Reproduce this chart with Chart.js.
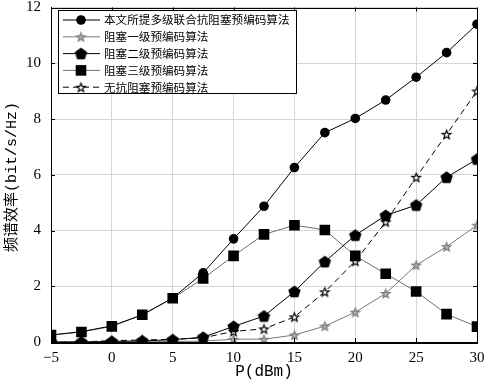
<!DOCTYPE html>
<html>
<head>
<meta charset="utf-8">
<script src="https://cdn.jsdelivr.net/npm/chart.js@4.4.1/dist/chart.umd.min.js"></script>
<style>
  html, body { margin: 0; padding: 0; background: #fff; }
  #wrap { width: 486px; height: 380px; }
</style>
</head>
<body>
<div id="wrap"><canvas id="specChart" width="486" height="380"></canvas></div>
<script>
// data
var powerDbm = [-5, -2.5, 0, 2.5, 5, 7.5, 10, 12.5, 15, 17.5, 20, 22.5, 25, 27.5, 30];
var proposed = [0.25, 0.37, 0.58, 0.97, 1.58, 2.48, 3.70, 4.87, 6.26, 7.51, 8.02, 8.68, 9.50, 10.38, 11.40];
var level1 = [0.0, 0.0, 0.0, 0.01, 0.02, 0.03, 0.10, 0.10, 0.25, 0.57, 1.07, 1.74, 2.76, 3.42, 4.19];
var level2 = [0.0, 0.0, 0.02, 0.04, 0.08, 0.17, 0.56, 0.93, 1.81, 2.88, 3.83, 4.54, 4.91, 5.91, 6.56];
var level3 = [0.25, 0.36, 0.56, 0.98, 1.57, 2.28, 3.09, 3.86, 4.19, 4.02, 3.09, 2.45, 1.81, 1.00, 0.55];
var noAnti = [0.0, 0.0, 0.05, 0.07, 0.10, 0.15, 0.38, 0.47, 0.90, 1.80, 2.90, 4.31, 5.91, 7.45, 9.00];
var seriesNames = ['本文所提多级联合抗阻塞预编码算法', '阻塞一级预编码算法', '阻塞二级预编码算法', '阻塞三级预编码算法', '无抗阻塞预编码算法'];
var xTicks = [-5, 0, 5, 10, 15, 20, 25, 30];
var xTitle = 'P(dBm)';
var yTitle = '频谱效率(bit/s/Hz)';

var fontFam = '"Liberation Serif", "Noto Sans CJK SC", serif';
var titleFam = '"Liberation Mono", "Noto Sans CJK SC", monospace';

// marker shapes
function starCanvas(R, fill, stroke) {
    var c = document.createElement('canvas');
    c.width = c.height = Math.ceil(R * 2 + 4);
    var g = c.getContext('2d');
    var cx = c.width / 2, cy = c.height / 2 + 0.5;
    g.beginPath();
    for (var i = 0; i < 10; i++) {
        var r = i % 2 === 0 ? R : R * 0.42;
        var a = -Math.PI / 2 + i * Math.PI / 5;
        g.lineTo(cx + r * Math.cos(a), cy + r * Math.sin(a));
    }
    g.closePath();
    g.fillStyle = fill;
    g.fill();
    g.lineWidth = 1.2;
    g.strokeStyle = stroke;
    g.stroke();
    return c;
}
function pentagonCanvas(R) {
    var c = document.createElement('canvas');
    c.width = c.height = Math.ceil(R * 2 + 2);
    var g = c.getContext('2d');
    var cx = c.width / 2, cy = c.height / 2 + 0.5;
    g.beginPath();
    for (var i = 0; i < 5; i++) {
        var a = -Math.PI / 2 + i * 2 * Math.PI / 5;
        g.lineTo(cx + R * Math.cos(a), cy + R * Math.sin(a));
    }
    g.closePath();
    g.fillStyle = '#000';
    g.fill();
    return c;
}
var grayStar = starCanvas(4.5, '#b0b0b0', '#7a7a7a');
var whiteStar = starCanvas(4.5, '#ffffff', '#000000');
var pentagon = pentagonCanvas(6.5);

var datasets = [
    { label: seriesNames[0], data: proposed, borderColor: '#000', backgroundColor: '#000', borderWidth: 1,
      pointStyle: 'circle', pointRadius: 4.8, pointBorderWidth: 0, order: 1 },
    { label: seriesNames[1], data: level1, borderColor: '#7a7a7a', backgroundColor: '#7a7a7a', borderWidth: 1,
      pointStyle: grayStar, pointRadius: 5, order: 4 },
    { label: seriesNames[2], data: level2, borderColor: '#000', backgroundColor: '#000', borderWidth: 1,
      pointStyle: pentagon, pointRadius: 6, order: 2 },
    { label: seriesNames[3], data: level3, borderColor: '#6e6e6e', backgroundColor: '#000', borderWidth: 1,
      pointStyle: 'rect', pointRadius: 7.5, pointBorderWidth: 0, order: 3 },
    { label: seriesNames[4], data: noAnti, borderColor: '#000', backgroundColor: '#fff', borderWidth: 1,
      borderDash: [6, 4], pointStyle: whiteStar, pointRadius: 5, order: 5 }
];
datasets.forEach(function (d) {
    d.data = d.data.map(function (v, i) { return { x: powerDbm[i], y: v }; });
    d.tension = 0;
    d.fill = false;
});

// box frame, inward ticks, axis titles and in-plot legend
var framePlugin = {
    id: 'frame',
    afterDraw: function (chart) {
        var ctx = chart.ctx, a = chart.chartArea;
        var xs = chart.scales.x, ys = chart.scales.y;
        ctx.save();
        ctx.strokeStyle = '#000';
        ctx.lineWidth = 1;
        ctx.beginPath();
        xTicks.forEach(function (v) {
            var px = Math.round(xs.getPixelForValue(v)) + 0.5;
            ctx.moveTo(px, a.bottom); ctx.lineTo(px, a.bottom - 4);
            ctx.moveTo(px, a.top); ctx.lineTo(px, a.top + 4);
        });
        for (var v = 0; v <= 12; v += 2) {
            var py = Math.round(ys.getPixelForValue(v)) + 0.5;
            ctx.moveTo(a.left, py); ctx.lineTo(a.left + 4, py);
            ctx.moveTo(a.right, py); ctx.lineTo(a.right - 4, py);
        }
        ctx.stroke();
        ctx.strokeRect(Math.round(a.left) + 0.5, Math.round(a.top) + 0.5,
            Math.round(a.right - a.left), Math.round(a.bottom - a.top));

        // axis titles
        ctx.fillStyle = '#000';
        ctx.textAlign = 'center';
        ctx.textBaseline = 'middle';
        ctx.font = '16px ' + titleFam;
        ctx.fillText(xTitle, (a.left + a.right) / 2, 372);
        ctx.save();
        ctx.translate(12, 177);
        ctx.rotate(-Math.PI / 2);
        ctx.font = '15px ' + titleFam;
        ctx.fillText(yTitle, 0, 0);
        ctx.restore();

        // legend
        var bx = 58.5, by = 10.5, bw = 238, bh = 83;
        ctx.fillStyle = '#fff';
        ctx.fillRect(bx, by, bw, bh);
        ctx.strokeRect(bx, by, bw, bh);
        ctx.font = '11.6px "Noto Sans CJK SC", sans-serif';
        ctx.textAlign = 'left';
        ctx.textBaseline = 'middle';
        datasets.forEach(function (d, i) {
            var y = 20 + i * 16.8;
            ctx.save();
            ctx.strokeStyle = d.borderColor;
            ctx.lineWidth = 1;
            ctx.setLineDash(d.borderDash || []);
            ctx.beginPath();
            ctx.moveTo(63, y); ctx.lineTo(100, y);
            ctx.stroke();
            ctx.restore();
            ctx.fillStyle = d.backgroundColor;
            ctx.strokeStyle = d.borderColor;
            Chart.helpers.drawPoint(ctx, { pointStyle: d.pointStyle, radius: d.pointRadius, rotation: 0, borderWidth: 0 }, 81, y);
            ctx.fillStyle = '#000';
            ctx.fillText(d.label, 104, y);
        });
        ctx.restore();
    }
};

var ctx = document.getElementById('specChart').getContext('2d');
var myChart = new Chart(ctx, {
    type: 'line',
    data: { datasets: datasets },
    options: {
        responsive: false,
        animation: false,
        layout: { padding: { top: 6, right: 9, left: 0, bottom: 0 } },
        plugins: { legend: { display: false }, tooltip: { enabled: false } },
        scales: {
            x: {
                type: 'linear', min: -5, max: 30,
                afterBuildTicks: function (s) { s.ticks = xTicks.map(function (v) { return { value: v }; }); },
                afterFit: function (s) { s.height = 38; s.paddingLeft = 0; s.paddingRight = 0; },
                grid: { color: '#d6d6d6', drawTicks: false },
                border: { color: '#000', width: 1 },
                ticks: {
                    padding: 7, color: '#000', font: { family: fontFam, size: 15, lineHeight: 1.2 },
                    callback: function (v) { return String(v).replace('-', '\u2212'); }
                },
                title: { display: false }
            },
            y: {
                min: 0, max: 12,
                afterFit: function (s) { s.width = 51; s.paddingTop = 0; s.paddingBottom = 0; },
                grid: { color: '#d6d6d6', drawTicks: false },
                border: { color: '#000', width: 1 },
                ticks: { stepSize: 2, padding: 10, color: '#000', font: { family: fontFam, size: 15 } },
                title: { display: false }
            }
        }
    },
    plugins: [framePlugin]
});
</script>
</body>
</html>
